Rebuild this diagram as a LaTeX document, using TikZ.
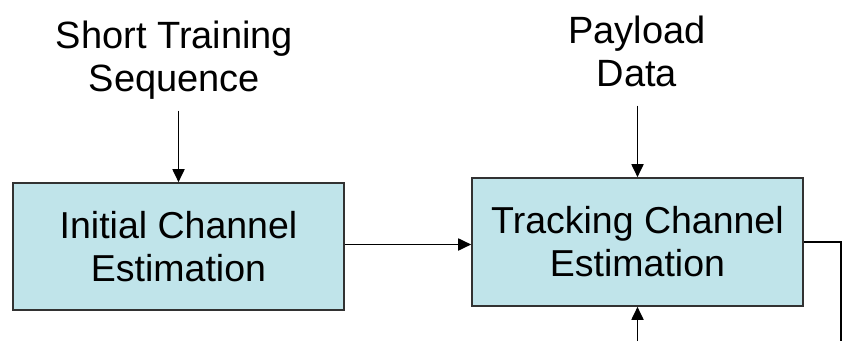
\documentclass[tikz,border=0pt]{standalone}
\usepackage{fontspec}
\setmainfont{Liberation Sans}
\usetikzlibrary{arrows.meta}
\definecolor{boxfill}{RGB}{192,228,234}
\definecolor{boxline}{RGB}{50,50,50}
\begin{document}
\begin{tikzpicture}[x=1pt,y=1pt,
  blockbox/.style={draw=boxline,line width=1.6pt,fill=boxfill,minimum width=331pt,inner sep=0pt,align=center,font=\fontsize{37.5}{43}\selectfont},
  label/.style={inner sep=0pt,align=center,font=\fontsize{38}{43}\selectfont},
  arr/.style={line width=1.8pt,-{Triangle[length=13pt,width=12pt]}},
  wire/.style={line width=1.8pt}]
\useasboundingbox[fill=white] (0,0) rectangle (847,341);
\node[blockbox,minimum height=127pt] (lbox) at (178.5,94.5) {Initial Channel\\Estimation};
\node[blockbox,minimum height=128pt] (rbox) at (637.5,99) {Tracking Channel\\Estimation};
\node[label] (stl) at (174.5,281) {Short Training\\Sequence};
\node[label] (pay) at (637,290) {Payload\\Data};
\coordinate (a1) at (178.5,230.3);
\coordinate (a2) at (637.5,235.3);
\coordinate (h) at (0,96.5);
\coordinate (o) at (841,0);
\coordinate (fb) at (637.5,0);
\draw[arr] (a1) -- (lbox.north);
\draw[arr] (a2) -- (rbox.north);
\draw[arr] (lbox.east |- h) -- (rbox.west |- h);
\draw[wire] (rbox.east) -| (o);
\draw[arr] (fb) -- (rbox.south);
\end{tikzpicture}
\end{document}
